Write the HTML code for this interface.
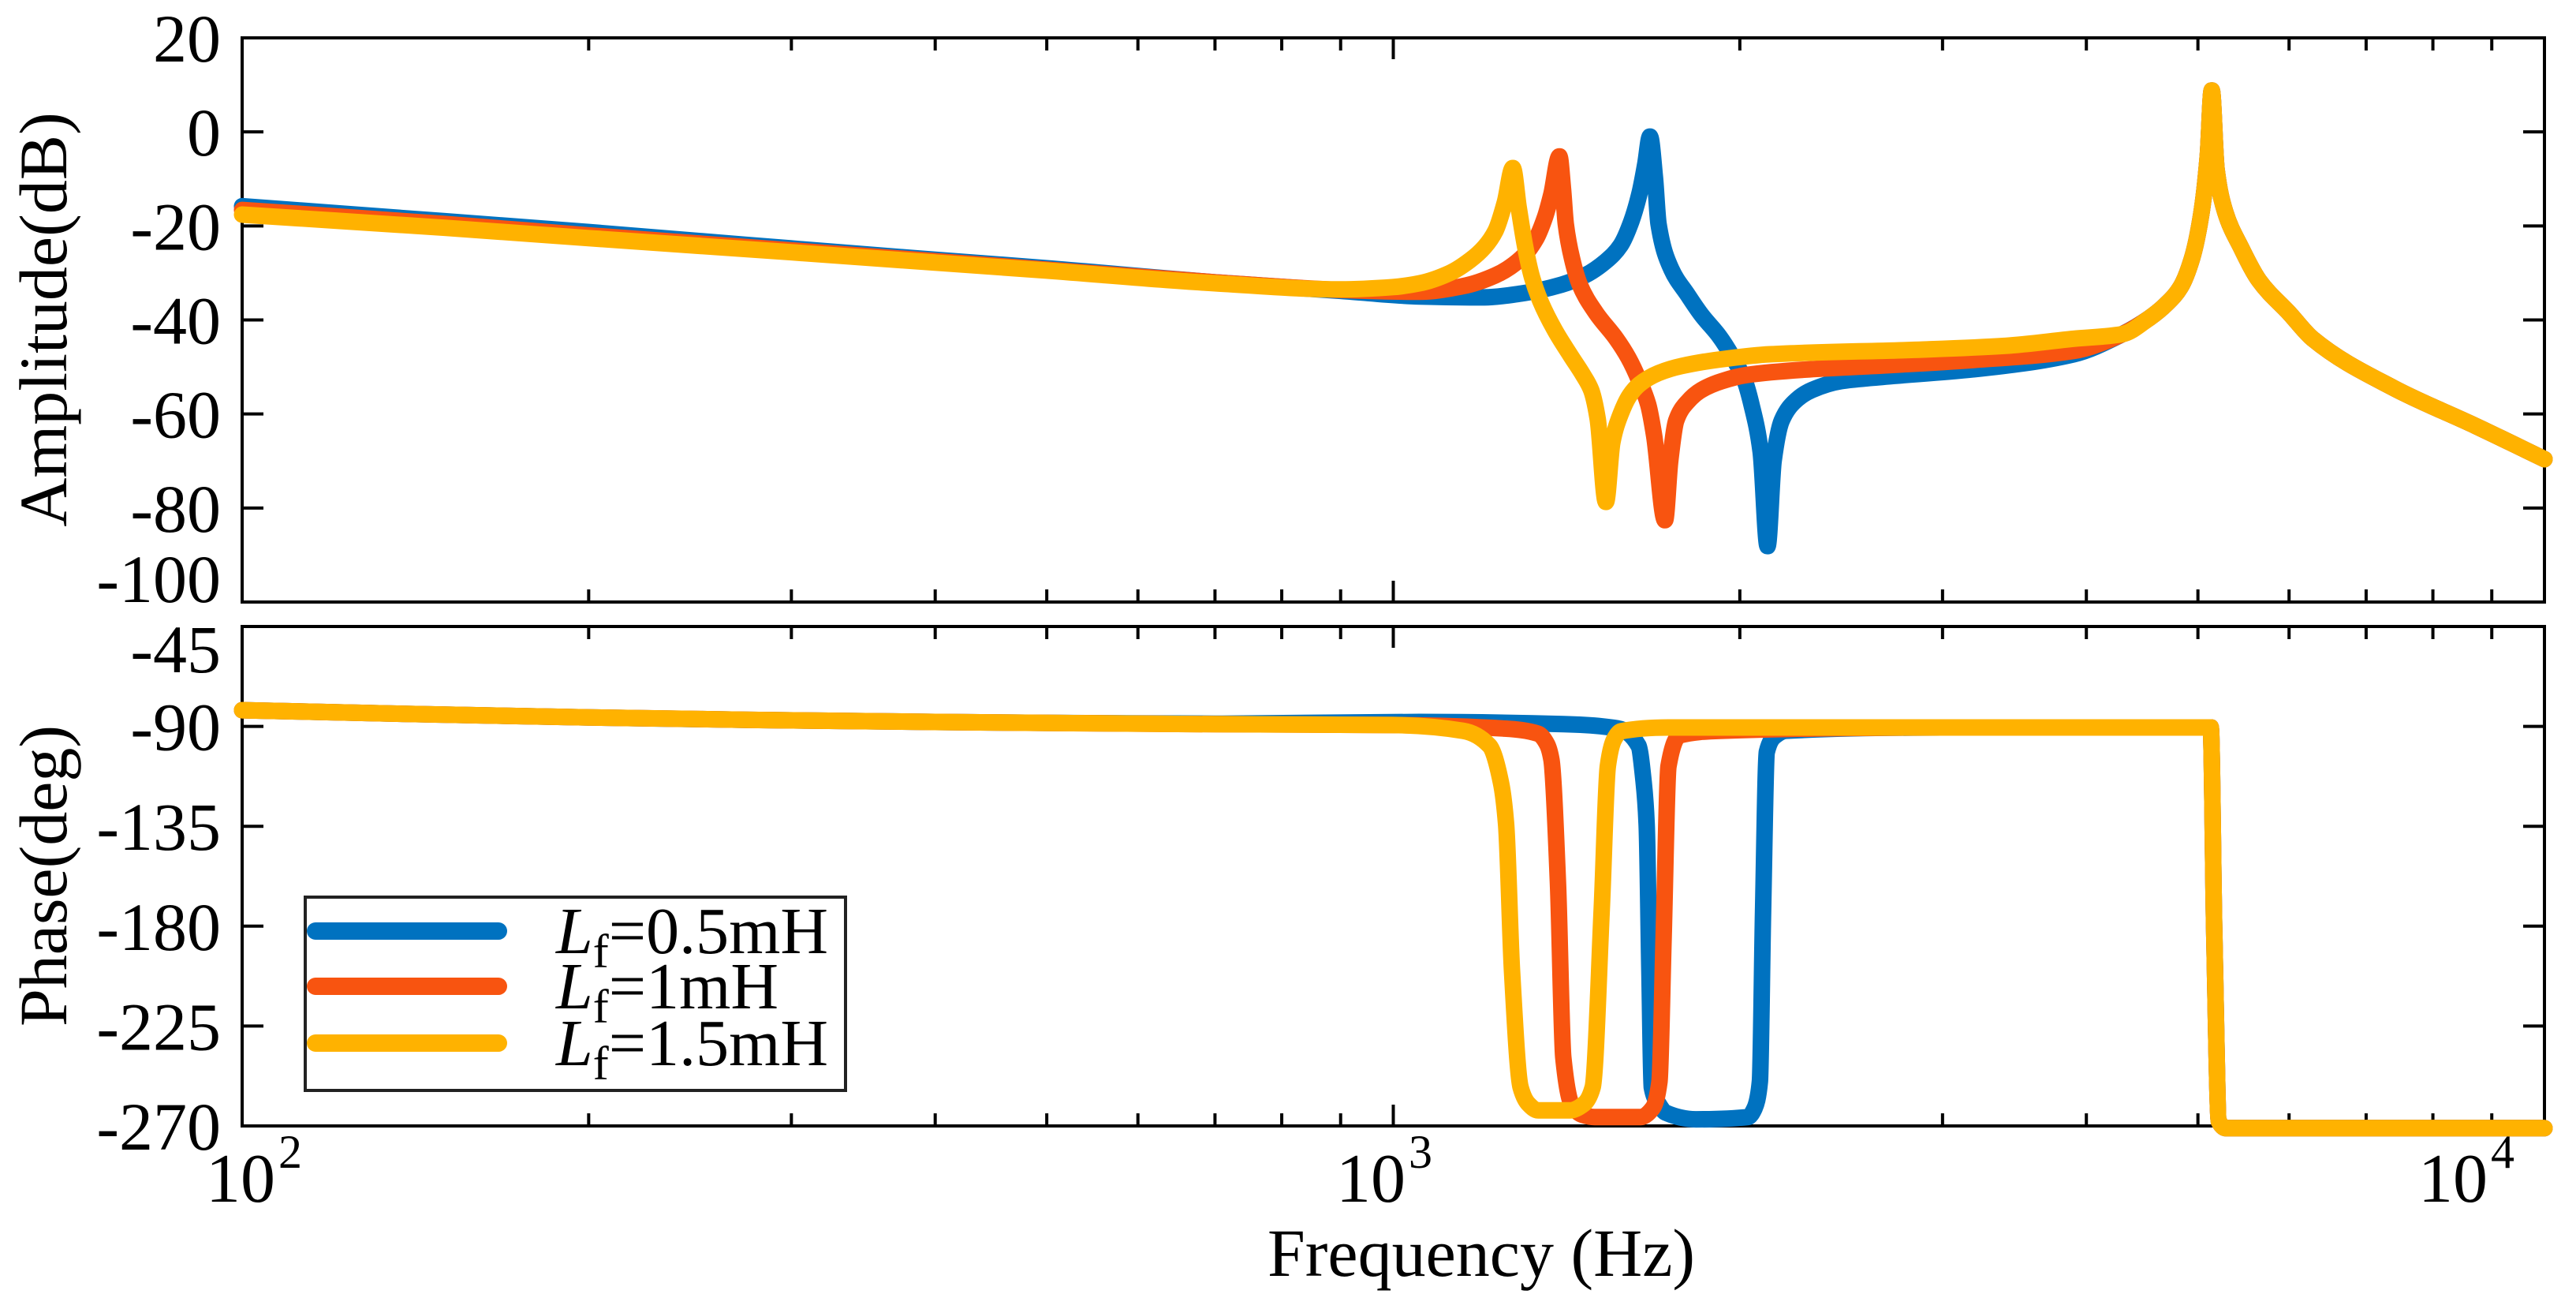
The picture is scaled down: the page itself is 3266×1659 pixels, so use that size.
<!DOCTYPE html>
<html><head><meta charset="utf-8"><style>
html,body{margin:0;padding:0;background:#fff}
svg{display:block}
text{font-family:"Liberation Serif","Times New Roman",serif;fill:#000}
</style></head><body>
<svg id="chart" width="3266" height="1659" viewBox="0 0 3266 1659" xmlns="http://www.w3.org/2000/svg">
<rect width="3266" height="1659" fill="#fff"/>
<g id="mag"></g>
<g id="ph"></g>
<text x="0" y="0" font-size="86" text-anchor="middle" transform="translate(84,405) rotate(-90)">Amplitude(dB)</text>
<text x="0" y="0" font-size="86" text-anchor="middle" transform="translate(84,1110) rotate(-90)">Phase(deg)</text>
<text x="1878" y="1617" font-size="86" text-anchor="middle">Frequency (Hz)</text>
<g id="xt"></g>
<g>
<rect x="387" y="1137" width="685" height="245" fill="#fff" stroke="#222" stroke-width="4"/>
<line x1="400" y1="1180" x2="632" y2="1180" stroke="#0072C0" stroke-width="22" stroke-linecap="round"/>
<line x1="400" y1="1250" x2="632" y2="1250" stroke="#F85410" stroke-width="22" stroke-linecap="round"/>
<line x1="400" y1="1322" x2="632" y2="1322" stroke="#FFB200" stroke-width="22" stroke-linecap="round"/>
<text x="705" y="1208" font-size="84"><tspan font-style="italic">L</tspan><tspan font-size="60" dy="18">f</tspan><tspan dy="-18">=0.5mH</tspan></text>
<text x="705" y="1278" font-size="84"><tspan font-style="italic">L</tspan><tspan font-size="60" dy="18">f</tspan><tspan dy="-18">=1mH</tspan></text>
<text x="705" y="1350" font-size="84"><tspan font-style="italic">L</tspan><tspan font-size="60" dy="18">f</tspan><tspan dy="-18">=1.5mH</tspan></text>
</g>
</svg>
<script>
// ---- data ----
const magTicks = [20, 0, -20, -40, -60, -80, -100];
const phTicks = [-45, -90, -135, -180, -225, -270];
const decades = [2, 3, 4];
const seriesNames = ["Lf=0.5mH", "Lf=1mH", "Lf=1.5mH"];
const seriesColors = ["#0072C0", "#F85410", "#FFB200"];

const magFreqHigh = [4300,4537,4700,4830,4940,5030,5100,5140,5190,5280,5450,5650,6000,6290,7400,8725,10000];
const magHigh     = [-43,-39.6,-36.5,-33,-27,-18,-5,8.8,-8,-17,-24.6,-31.6,-38.5,-44,-54.5,-62.6,-69.6];

const magFreqBlue = [100,150,200,300,400,500,700,900,1054,1200,1290,1400,1468,1530,1576,1610,1636,1655,1671,1688,1700,1744,1800,1852,1920,1967,2020,2048,2085,2114,2140,2175,2240,2310,2450,2608,3190,3900];
const magBlue     = [-15.8,-19,-21.3,-24.8,-27.2,-29,-32,-33.8,-35,-35.2,-34.4,-32.5,-30.5,-27.5,-24.1,-19,-13.2,-7,-1.0,-10,-19.6,-29.2,-34.5,-38.9,-43.5,-47.5,-53,-58.2,-68,-88.1,-70,-61.4,-57,-54.9,-53,-52.3,-50.5,-47.3];
const magFreqOrange = [100,150,200,300,400,500,700,900,1054,1150,1227,1290,1330,1355,1372,1394,1404,1412,1430,1452,1500,1562,1600,1636,1665,1685,1722,1740,1761,1800,1852,1930,2029,2300,2608,3200,3900];
const magOrange     = [-16.6,-19.6,-22,-25.2,-27.5,-29.3,-32,-33.6,-34,-32.8,-30.5,-27,-22.8,-18,-13.2,-5.2,-12,-19.6,-27,-32.5,-38.5,-44,-48,-53,-58,-64.6,-82.6,-70,-61.4,-57.5,-54.9,-53,-51.7,-50.5,-49.8,-48.5,-46.6];
const magFreqYellow = [100,150,200,300,400,500,700,900,1000,1054,1120,1166,1200,1227,1250,1270,1285,1302,1320,1342,1380,1425,1460,1486,1505,1530,1550,1576,1605,1636,1700,1780,1950,2124,2888,3400,3900];
const magYellow     = [-17.6,-20.4,-22.6,-25.6,-27.8,-29.5,-32.2,-33.5,-33,-32.2,-30,-27.3,-24.5,-21,-15,-7.7,-16,-24.5,-31,-36,-42,-47.5,-51.5,-55,-61,-78.7,-66,-60,-56,-53.7,-51.3,-49.8,-48.2,-47.3,-46.3,-45.5,-44];

const phFreqHigh = [3000,5130,5165,5215,5290,10000];
const phHigh     = [-90.5,-90.5,-180,-268,-271,-271];
const phFreqBlue = [100,200,400,700,1054,1406,1566,1633,1650,1660,1669,1677,1700,1724,1832,2033,2060,2082,2095,2111,2150,2192];
const phBlue     = [-82.7,-86,-88,-88.8,-88,-89,-90.9,-98.7,-115,-134,-200,-252.6,-260,-264,-267,-266,-262,-250,-173.7,-101.5,-94,-92];
const phFreqOrange = [100,200,400,700,1000,1250,1336,1360,1372,1390,1405,1430,1460,1496,1640,1680,1703,1717,1734,1774,1923];
const phOrange     = [-82.7,-86,-88,-89,-89.4,-91,-93.3,-98,-105,-160,-239,-260.8,-265,-266,-266,-262,-250,-186.8,-108,-94,-92];
const phFreqYellow = [100,200,400,700,1000,1150,1212,1240,1253,1268,1290,1310,1336,1424,1465,1490,1517,1536,1555,1577,1734];
const phYellow     = [-82.7,-86,-88,-89,-89.4,-92,-98.7,-115,-134,-200,-252.6,-260,-263,-263,-260,-252.6,-173.7,-108,-96,-92.2,-90.5];

// ---- axes ----
const X0 = 307, X1 = 3226, FMIN = 100, FMAX = 10000;
const M_TOP = 48, M_BOT = 763, M_MAX = 20, M_MIN = -100;
const P_TOP = 794, P_BOT = 1427, P_MAX = -45, P_MIN = -270;
const xs = f => X0 + (X1 - X0) * (Math.log10(f) - Math.log10(FMIN)) / (Math.log10(FMAX) - Math.log10(FMIN));
const ym = v => M_TOP + (M_MAX - v) * (M_BOT - M_TOP) / (M_MAX - M_MIN);
const yp = v => P_TOP + (P_MAX - v) * (P_BOT - P_TOP) / (P_MAX - P_MIN);
const NS = "http://www.w3.org/2000/svg";
function mk(tag, attrs, parent) {
  const e = document.createElementNS(NS, tag);
  for (const k in attrs) e.setAttribute(k, attrs[k]);
  parent.appendChild(e);
  return e;
}

function drawAxes(g, top, bot, ticks, yf, prefix) {
  const box = mk('rect', {x: X0, y: top, width: X1 - X0, height: bot - top, fill: 'none', stroke: '#000', 'stroke-width': 4}, g);
  
  
  ticks.forEach((t, i) => {
    const y = yf(t);
    const l1 = mk('line', {x1: X0, x2: X0 + 27, y1: y, y2: y, stroke: '#000', 'stroke-width': 4}, g);
    
    
    const l2 = mk('line', {x1: X1, x2: X1 - 27, y1: y, y2: y, stroke: '#000', 'stroke-width': 4}, g);
    
    
    let ly = y;
    if (prefix === 'amplitude' && i === ticks.length - 1) ly = y - 30;
    if (prefix === 'phase' && i === 0) ly = y + 28;
    const tx = mk('text', {x: 280, y: ly + 30, 'font-size': 86, 'text-anchor': 'end'}, g);
    
    
    tx.textContent = String(t);
  });
  for (let d = 2; d <= 4; d++) {
    for (let m = 1; m <= 9; m++) {
      const f = m * Math.pow(10, d);
      if (f <= FMIN || f >= FMAX) continue;
      const x = xs(f);
      const len = m === 1 ? 27 : 16;
      const a = mk('line', {x1: x, x2: x, y1: bot, y2: bot - len, stroke: '#000', 'stroke-width': 4}, g);
      
      
      const b = mk('line', {x1: x, x2: x, y1: top, y2: top + len, stroke: '#000', 'stroke-width': 4}, g);
      
      
    }
  }
}

// monotone cubic path through screen points (x strictly increasing)
function monoPath(P) {
  const n = P.length;
  if (n < 2) return '';
  const dx = [], s = [];
  for (let i = 0; i < n - 1; i++) { dx.push(P[i+1][0] - P[i][0]); s.push((P[i+1][1] - P[i][1]) / dx[i]); }
  const m = new Array(n);
  m[0] = s[0]; m[n-1] = s[n-2];
  for (let i = 1; i < n - 1; i++) {
    if (s[i-1] * s[i] <= 0) m[i] = 0;
    else {
      const w1 = 2 * dx[i] + dx[i-1], w2 = dx[i] + 2 * dx[i-1];
      m[i] = (w1 + w2) / (w1 / s[i-1] + w2 / s[i]);
    }
  }
  let d = 'M' + P[0][0].toFixed(1) + ',' + P[0][1].toFixed(1);
  for (let i = 0; i < n - 1; i++) {
    const h = dx[i] / 3;
    d += ' C' + (P[i][0] + h).toFixed(1) + ',' + (P[i][1] + m[i] * h).toFixed(1) + ' ' +
         (P[i+1][0] - h).toFixed(1) + ',' + (P[i+1][1] - m[i+1] * h).toFixed(1) + ' ' +
         P[i+1][0].toFixed(1) + ',' + P[i+1][1].toFixed(1);
  }
  return d;
}

function drawSeries(g, fr, vals, yf, color, name) {
  const P = fr.map((f, i) => [xs(f), yf(vals[i])]);
  const p = mk('path', {d: monoPath(P), fill: 'none', stroke: color, 'stroke-width': 21, 'stroke-linejoin': 'round', 'stroke-linecap': 'round'}, g);
  
  
}

const gm = document.getElementById('mag');
const gp = document.getElementById('ph');
drawAxes(gm, M_TOP, M_BOT, magTicks, ym, 'amplitude');
drawAxes(gp, P_TOP, P_BOT, phTicks, yp, 'phase');
drawSeries(gm, magFreqBlue.concat(magFreqHigh), magBlue.concat(magHigh), ym, seriesColors[0], 'amplitude-line-0-5mh');
drawSeries(gm, magFreqOrange.concat(magFreqHigh), magOrange.concat(magHigh), ym, seriesColors[1], 'amplitude-line-1mh');
drawSeries(gm, magFreqYellow.concat(magFreqHigh), magYellow.concat(magHigh), ym, seriesColors[2], 'amplitude-line-1-5mh');
drawSeries(gp, phFreqBlue.concat(phFreqHigh), phBlue.concat(phHigh), yp, seriesColors[0], 'phase-line-0-5mh');
drawSeries(gp, phFreqOrange.concat(phFreqHigh), phOrange.concat(phHigh), yp, seriesColors[1], 'phase-line-1mh');
drawSeries(gp, phFreqYellow.concat(phFreqHigh), phYellow.concat(phHigh), yp, seriesColors[2], 'phase-line-1-5mh');

const xt = document.getElementById('xt');
const labelCenters = {2: 327, 3: 1760, 4: 3132};
decades.forEach(d => {
  const cx = labelCenters[d];
  const t = mk('text', {x: cx + 22, y: 1523, 'font-size': 88, 'text-anchor': 'end'}, xt);
  
  
  t.textContent = '10';
  const s = mk('text', {x: cx + 26, y: 1480, 'font-size': 60}, xt);
  
  
  s.textContent = String(d);
});
</script>
</body></html>
